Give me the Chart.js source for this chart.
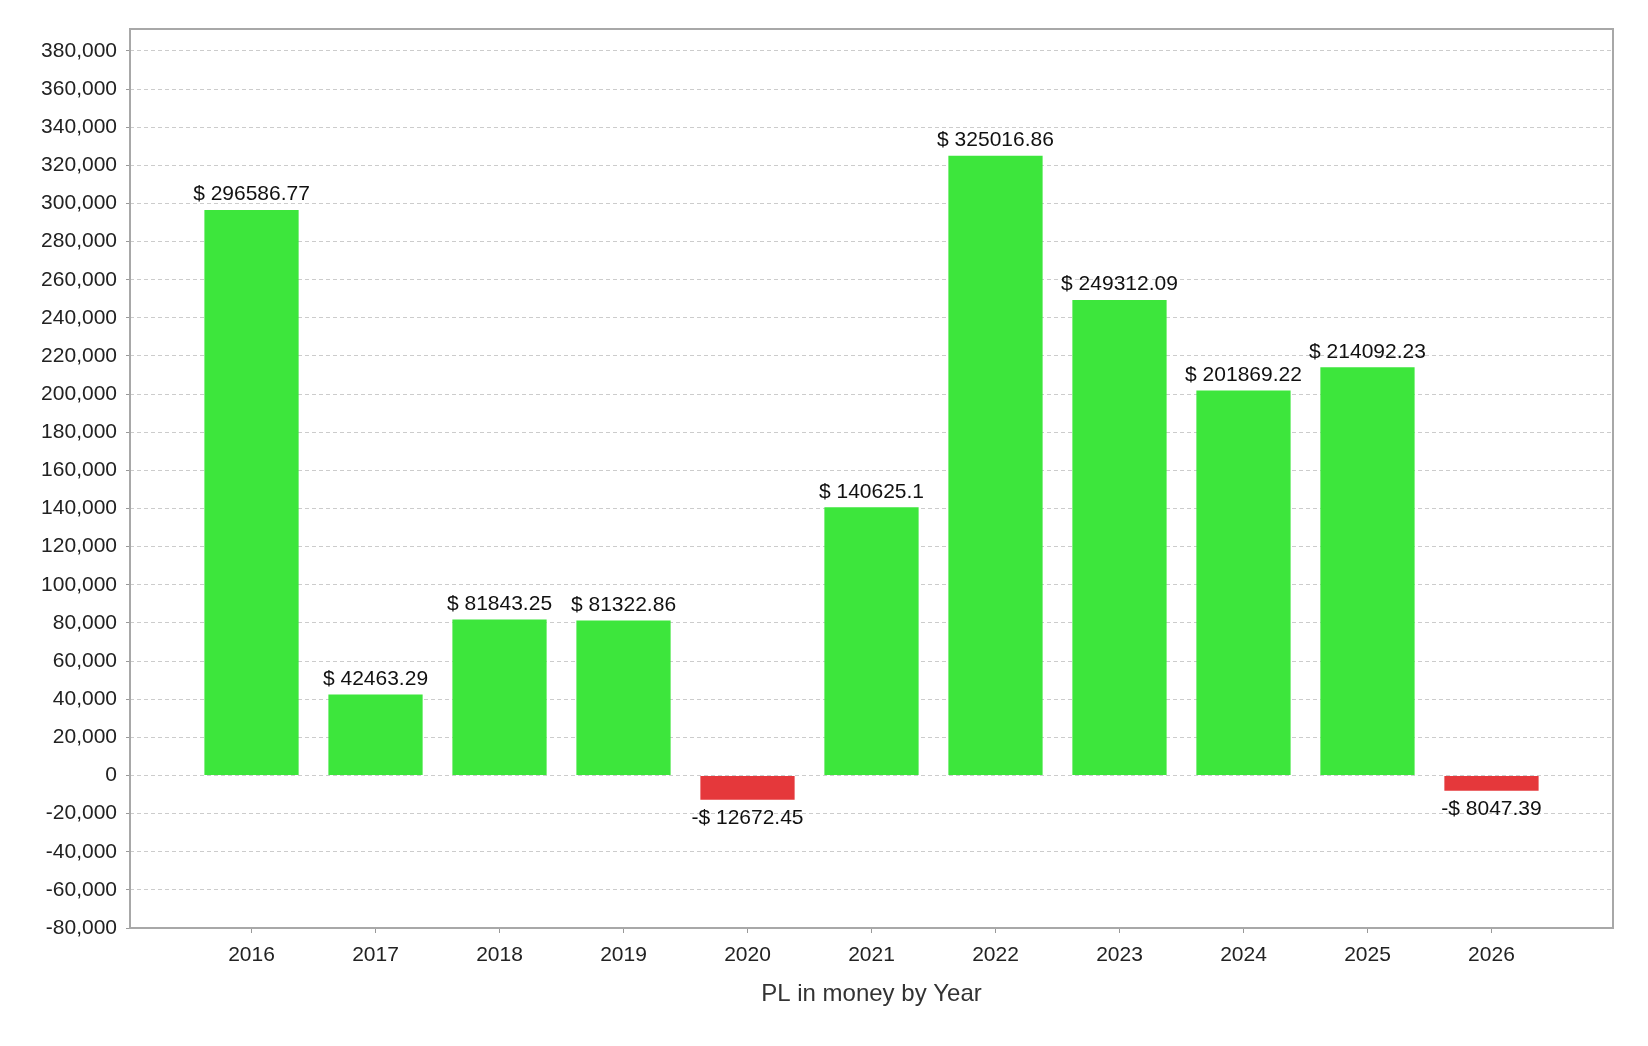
<!DOCTYPE html>
<html>
<head>
<meta charset="utf-8">
<script src="https://cdn.jsdelivr.net/npm/chart.js@4"></script>
<style>
  html, body { margin:0; padding:0; background:#fff; }
  #wrap { width:1648px; height:1046px; }
</style>
</head>
<body>
<div id="wrap"><canvas id="plChart" width="1648" height="1046"></canvas></div>
<script>
// PL by year - bar chart
const years = ['2016','2017','2018','2019','2020','2021','2022','2023','2024','2025','2026'];
const pl = [296586.77, 42463.29, 81843.25, 81322.86, -12672.45, 140625.1, 325016.86, 249312.09, 201869.22, 214092.23, -8047.39];
const yTicks = [-80000,-60000,-40000,-20000,0,20000,40000,60000,80000,100000,120000,140000,160000,180000,
  200000,220000,240000,260000,280000,300000,320000,340000,360000,380000];
const yMin = -80000;
const yMax = 391500;

const GREEN = '#3de63c';
const RED = '#e5383b';
const FONT = "'Liberation Sans', Arial, sans-serif";

// value labels above / below bars
const valueLabels = {
  id:'valueLabels',
  afterDatasetsDraw(chart){
    const ctx = chart.ctx;
    const meta = chart.getDatasetMeta(0);
    ctx.save();
    ctx.font = '21px ' + FONT;
    ctx.fillStyle = '#111';
    ctx.textAlign = 'center';
    meta.data.forEach((bar, i)=>{
      const v = pl[i];
      const txt = (v < 0 ? '-$ ' : '$ ') + Math.abs(v);
      if(v >= 0){
        ctx.textBaseline = 'bottom';
        ctx.fillText(txt, bar.x, Math.min(bar.y, bar.base) - 5);
      } else {
        ctx.textBaseline = 'top';
        ctx.fillText(txt, bar.x, Math.max(bar.y, bar.base) + 8);
      }
    });
    ctx.restore();
  }
};

// gray frame round the plot
const frame = {
  id:'frame',
  afterDraw(chart){
    const a = chart.chartArea;
    const ctx = chart.ctx;
    ctx.save();
    ctx.strokeStyle = '#a8a8a8';
    ctx.lineWidth = 2;
    ctx.strokeRect(a.left, a.top, a.right - a.left, a.bottom - a.top);
    ctx.restore();
  }
};

new Chart(document.getElementById('plChart'), {
  type:'bar',
  data:{
    datasets:[{
      data: pl.map((v, i)=>({x:i, y:v})),
      backgroundColor: pl.map(v=> v < 0 ? RED : GREEN),
      borderWidth:0,
      barPercentage:0.76,
      categoryPercentage:1
    }]
  },
  options:{
    responsive:false,
    animation:false,
    devicePixelRatio:1,
    layout:{padding:{left:0, top:29, right:35, bottom:0}},
    plugins:{legend:{display:false}, tooltip:{enabled:false}},
    scales:{
      x:{
        type:'linear',
        offset:false,
        min:-0.98,
        max:10.98,
        grid:{offset:false, drawOnChartArea:false, drawTicks:true, tickLength:5, color:'#999'},
        border:{display:false},
        afterBuildTicks(scale){ scale.ticks = years.map((_, i)=>({value:i})); },
        afterFit(scale){ scale.height = 118; },
        ticks:{
          autoSkip:false,
          maxRotation:0,
          padding:10,
          color:'#222',
          font:{family:FONT, size:21},
          callback:(v)=>years[v]
        },
        title:{
          display:true,
          text:'PL in money by Year',
          color:'#333',
          font:{family:FONT, size:24},
          padding:{top:0, bottom:37}
        }
      },
      y:{
        min:yMin,
        max:yMax,
        grid:{color:'#cccccc', tickLength:4, tickColor:'#999'},
        border:{display:false, dash:[4,3]},
        afterBuildTicks(scale){ scale.ticks = yTicks.map(v=>({value:v})); },
        afterFit(scale){ scale.width = 130; },
        ticks:{
          autoSkip:false,
          padding:9,
          color:'#222',
          font:{family:FONT, size:21},
          callback:(v)=>v.toLocaleString('en-US')
        }
      }
    }
  },
  plugins:[valueLabels, frame]
});
</script>
</body>
</html>
